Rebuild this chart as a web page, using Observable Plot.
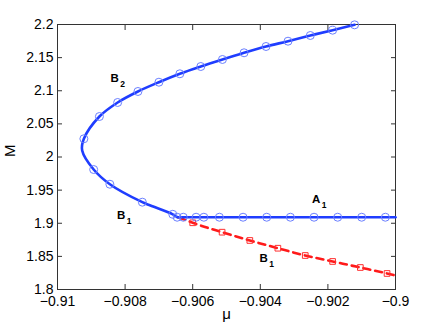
<!DOCTYPE html>
<html>
<head>
<meta charset="utf-8">
<script src="https://cdn.jsdelivr.net/npm/d3@7"></script>
<script src="https://cdn.jsdelivr.net/npm/@observablehq/plot@0.6"></script>
<style>
  html, body { margin: 0; padding: 0; background: #fff; }
  #chart { width: 436px; height: 328px; }
</style>
</head>
<body>
<div id="chart"></div>
<script>
// ---- data ----
// Solid blue A1 branch
const a1Mu = [-0.9, -0.90645];
const a1M  = [1.9091, 1.9091];
// Solid blue B1 -> fold -> B2 branch, path order
const blueMu = [-0.90645, -0.90659, -0.90725, -0.90749, -0.90845, -0.90893, -0.90927, -0.90922, -0.90876, -0.90822, -0.90762, -0.90700, -0.90638, -0.90576, -0.90512, -0.90448, -0.90383, -0.90318, -0.90252, -0.90186, -0.90121];
const blueM  = [1.9091, 1.9135, 1.9268, 1.9318, 1.9589, 1.9811, 2.0098, 2.0275, 2.0611, 2.0823, 2.0989, 2.1129, 2.1256, 2.1366, 2.1472, 2.1573, 2.1668, 2.1748, 2.1834, 2.1914, 2.1995];

// Circle markers on blue branches
const circleMu = [-0.90922, -0.90876, -0.90822, -0.90762, -0.90700, -0.90638, -0.90576, -0.90512, -0.90448, -0.90383, -0.90318, -0.90252, -0.90186, -0.90121,
                  -0.90893, -0.90845, -0.90749, -0.90659,
                  -0.90646, -0.90628, -0.90590, -0.90567, -0.90521, -0.90451, -0.90381, -0.90311, -0.90241, -0.90171, -0.90100, -0.90030];
const circleM  = [2.0275, 2.0611, 2.0823, 2.0989, 2.1129, 2.1256, 2.1366, 2.1472, 2.1573, 2.1668, 2.1748, 2.1834, 2.1914, 2.1995,
                  1.9811, 1.9589, 1.9318, 1.9135,
                  1.9091, 1.9091, 1.9091, 1.9091, 1.9091, 1.9091, 1.9091, 1.9091, 1.9091, 1.9091, 1.9091, 1.9091];

// Dashed red branch (B1 unstable)
const redMu = [-0.90642, -0.90600, -0.90513, -0.90431, -0.90348, -0.90267, -0.90186, -0.90104, -0.90025, -0.9];
const redM  = [1.9091, 1.9007, 1.8865, 1.8740, 1.8623, 1.8513, 1.8423, 1.8332, 1.8242, 1.8211];
const squareMu = redMu.slice(1, 9);
const squareM  = redM.slice(1, 9);

// Branch labels
const labelText = ["B", "B", "A", "B"];
const labelSub  = ["2", "1", "1", "1"];
const labelMu   = [-0.90831, -0.90812, -0.90235, -0.90390];
const labelM    = [2.1185, 1.9125, 1.9358, 1.8475];

// Ticks
const xTicks = [-0.91, -0.908, -0.906, -0.904, -0.902, -0.9];
const xTickLabels = ["\u22120.91", "\u22120.908", "\u22120.906", "\u22120.904", "\u22120.902", "\u22120.9"];
const yTicks = [1.8, 1.85, 1.9, 1.95, 2, 2.05, 2.1, 2.15, 2.2];
const yTickLabels = ["1.8", "1.85", "1.9", "1.95", "2", "2.05", "2.1", "2.15", "2.2"];

// ---- build tables ----
const a1 = a1Mu.map((x, i) => ({x, y: a1M[i]}));
const blue = blueMu.map((x, i) => ({x, y: blueM[i]}));
const circles = circleMu.map((x, i) => ({x, y: circleM[i]}));
const red = redMu.map((x, i) => ({x, y: redM[i]}));
const squares = squareMu.map((x, i) => ({x, y: squareM[i]}));
const labels = labelText.map((t, i) => ({t, s: labelSub[i], x: labelMu[i], y: labelM[i]}));

const fx = d => xTickLabels[xTicks.indexOf(d)];
const fy = d => yTickLabels[yTicks.indexOf(d)];
const FS = 14;

const chart = Plot.plot({
  width: 436,
  height: 328,
  marginLeft: 57,
  marginRight: 41,
  marginTop: 24,
  marginBottom: 39,
  style: {fontFamily: "'Liberation Sans', Arial, Helvetica, sans-serif", fontSize: "14px", background: "#fff", color: "#000"},
  x: {domain: [-0.91, -0.9]},
  y: {domain: [1.8, 2.2]},
  marks: [
    Plot.axisX(xTicks, {anchor: "bottom", tickSize: -5, tickPadding: 12, tickFormat: fx, label: null, stroke: "#333", fontSize: FS, fill: "#000"}),
    Plot.axisX(xTicks, {anchor: "top", tickSize: -5, tickFormat: () => "", label: null, stroke: "#333"}),
    Plot.axisY(yTicks, {anchor: "left", tickSize: -5, tickPadding: 9, tickFormat: fy, label: null, stroke: "#333", fontSize: FS, fill: "#000"}),
    Plot.axisY(yTicks, {anchor: "right", tickSize: -5, tickFormat: () => "", label: null, stroke: "#333"}),
    Plot.frame({stroke: "#333"}),
    Plot.line(red, {x: "x", y: "y", stroke: "#ff1a1a", strokeWidth: 2.6, strokeDasharray: "7,5", curve: "monotone-x"}),
    Plot.dot(squares, {x: "x", y: "y", symbol: "square", r: 3.2, stroke: "#ff3030", strokeWidth: 1, fill: "none"}),
    Plot.line(a1, {x: "x", y: "y", stroke: "#1f3dff", strokeWidth: 2.6}),
    Plot.line(blue, {x: "x", y: "y", stroke: "#1f3dff", strokeWidth: 2.6, curve: "catmull-rom"}),
    Plot.dot(circles, {x: "x", y: "y", r: 4, stroke: "#6b80ff", strokeWidth: 1, fill: "none"}),
    Plot.text(labels, {x: "x", y: "y", text: "t", fontWeight: "bold", fontSize: 11.5, fill: "#000"}),
    Plot.text(labels, {x: "x", y: "y", text: "s", dx: 8, dy: 6, fontWeight: "bold", fontSize: 8.5, fill: "#000"}),
    Plot.text(["\u03bc"], {frameAnchor: "bottom", dy: 29, fontSize: 15, fill: "#000"}),
    Plot.text(["M"], {frameAnchor: "left", dx: -47, rotate: -90, fontSize: 15, fill: "#000"})
  ]
});
document.getElementById("chart").appendChild(chart);
</script>
</body>
</html>
